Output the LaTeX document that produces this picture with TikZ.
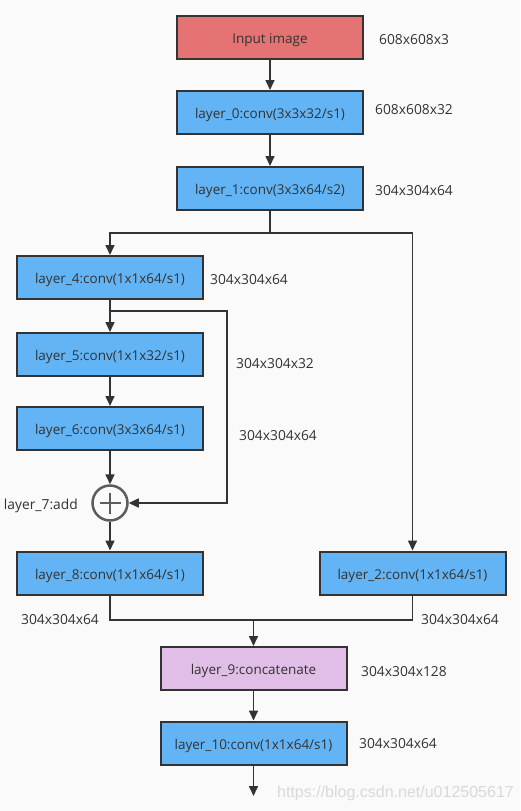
\documentclass[tikz,border=0pt]{standalone}
\usepackage{fontspec}
\setmainfont{Open Sans}
\newfontfamily\markfont{Liberation Sans}
\usetikzlibrary{arrows.meta,positioning}
\definecolor{convblue}{HTML}{63B4F5}
\definecolor{inred}{HTML}{E57373}
\definecolor{catpurple}{HTML}{E1BEE7}
\definecolor{ink}{HTML}{333333}
\definecolor{paper}{HTML}{FAFAFA}
\tikzset{
  layer/.style={draw=ink,line width=2pt,minimum width=186pt,minimum height=43pt,
    font=\fontsize{13.5}{15}\selectfont,text=ink,text height=12.6pt,text depth=0pt},
  dimtext/.style={font=\fontsize{13.8}{15}\selectfont,text=ink,anchor=west,inner sep=0pt},
  arr/.style={draw=ink,line width=1.6pt,-{Triangle[length=10pt,width=9pt]}},
  ln/.style={draw=ink,line width=1.6pt}
}
\begin{document}
\begin{tikzpicture}[x=1pt,y=-1pt]
  \fill[paper](0,0)rectangle(520,811);
  \useasboundingbox(0,0)rectangle(520,811);
  % main column
  \node[layer,fill=inred](in) at (270,37.5){Input image};
  \node[layer,fill=convblue](l0) at (270,112.5){layer\_0:conv(3x3x32/s1)};
  \node[layer,fill=convblue](l1) at (270,188.5){layer\_1:conv(3x3x64/s2)};
  % left branch
  \node[layer,fill=convblue](l4) at (110,277.5){layer\_4:conv(1x1x64/s1)};
  \node[layer,fill=convblue](l5) at (110,354.5){layer\_5:conv(1x1x32/s1)};
  \node[layer,fill=convblue](l6) at (110,428.5){layer\_6:conv(3x3x64/s1)};
  \node[circle,draw=ink!80,line width=2.5pt,minimum size=35pt,inner sep=0pt,fill=paper](add) at (110,503){};
  \draw[ink!80,line width=2pt](add.center)+(-10.5,0)--+(10.5,0) (add.center)+(0,-10.5)--+(0,10.5);
  \node[layer,fill=convblue](l8) at (110,573){layer\_8:conv(1x1x64/s1)};
  % right branch
  \node[layer,fill=convblue](l2) at (412.5,573){layer\_2:conv(1x1x64/s1)};
  % merge
  \node[layer,fill=catpurple](l9) at (253.5,668.5){layer\_9:concatenate};
  \node[layer,fill=convblue](l10) at (253.5,743){layer\_10:conv(1x1x64/s1)};

  \coordinate(s1) at (270,233);
  \coordinate(k) at (227,311);
  \coordinate(m) at (253.5,620);
  \coordinate(out) at (253.5,796);

  \draw[arr](in)--(l0);
  \draw[arr](l0)--(l1);
  \draw[arr](l1.south)--(s1)-|(l4.north);
  \draw[arr](s1)-|(l2.north);
  \draw[arr](l4)--(l5);
  \draw[arr](l4.south|-k)--(k)|-(add.east);
  \draw[arr](l5)--(l6);
  \draw[arr](l6)--(add);
  \draw[arr](add)--(l8);
  \draw[ln](l8.south)|-(m)-|(l2.south);
  \draw[arr](m)--(l9);
  \draw[arr](l9)--(l10);
  \draw[arr](l10)--(out);

  % sizes
  \node[dimtext](t0) at (379,40){608x608x3};
  \node[dimtext](t1) at (375,110){608x608x32};
  \node[dimtext](t2) at (375,191){304x304x64};
  \node[dimtext](t4) at (210,280){304x304x64};
  \node[dimtext](t5) at (236,364){304x304x32};
  \node[dimtext](t6) at (239,436){304x304x64};
  \node[dimtext,anchor=east](t7) at (78,506){layer\_7:add};
  \node[dimtext](t8) at (21,620){304x304x64};
  \node[dimtext](t2b) at (421,620){304x304x64};
  \node[dimtext](t9) at (361,672){304x304x128};
  \node[dimtext](t10) at (359,744){304x304x64};
  \node[dimtext,text=black!15,font=\fontsize{16}{18}\markfont](wm) at (277,793){https://blog.csdn.net/u012505617};
\end{tikzpicture}
\end{document}
